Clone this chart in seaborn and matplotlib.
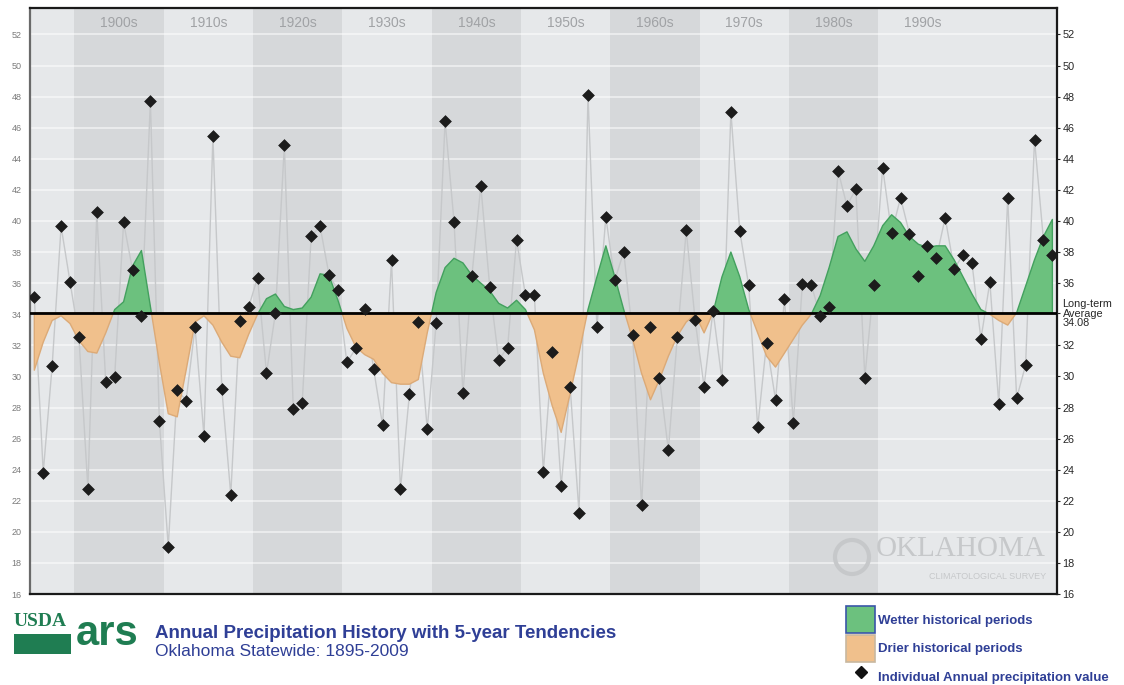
import numpy as np
import pandas as pd
import matplotlib
matplotlib.use("Agg")
import matplotlib.pyplot as plt
from matplotlib.patches import Patch, Rectangle, Circle
from matplotlib.lines import Line2D
import seaborn as sns

# Oklahoma statewide annual precipitation (inches)
years = list(range(1895, 2010))
annual = [35.14, 23.81, 30.68, 39.65, 36.09, 32.53, 22.78, 40.55, 29.61, 29.99,
          39.91, 36.86, 33.86, 47.70, 27.16, 19.05, 29.14, 28.45, 33.17, 26.17,
          45.45, 29.18, 22.39, 33.56, 34.46, 36.35, 30.21, 34.07, 44.89, 27.89,
          28.28, 39.01, 39.65, 36.54, 35.53, 30.90, 31.80, 34.33, 30.47, 26.86,
          37.46, 22.74, 28.84, 33.47, 26.60, 33.43, 46.44, 39.95, 28.92, 36.48,
          42.27, 35.75, 31.07, 31.86, 38.79, 35.21, 35.21, 23.86, 31.60, 22.95,
          29.35, 21.20, 48.11, 33.15, 40.25, 36.18, 38.02, 32.66, 21.71, 33.15,
          29.93, 25.27, 32.53, 39.39, 33.60, 29.35, 34.24, 29.78, 47.02, 39.33,
          35.85, 26.73, 32.18, 28.49, 34.97, 27.03, 35.96, 35.90, 33.90, 34.44,
          43.24, 40.98, 42.06, 29.93, 35.90, 43.43, 39.22, 41.50, 39.18, 36.43,
          38.41, 37.59, 40.21, 36.91, 37.83, 37.29, 32.40, 36.07, 28.23, 41.46,
          28.60, 30.72, 45.23, 38.79, 37.83]
# 5-year tendency curve
tendency = [30.4, 32.2, 33.6, 33.9, 33.4, 32.3, 31.6, 31.5, 32.8, 34.3,
            34.8, 37.1, 38.1, 34.5, 30.9, 27.6, 27.4, 30.4, 33.5, 33.9,
            33.3, 32.2, 31.3, 31.2, 32.7, 34.0, 35.0, 35.3, 34.5, 34.3,
            34.4, 35.1, 36.6, 36.5, 34.9, 33.1, 31.9, 31.4, 31.1, 30.2,
            29.6, 29.5, 29.5, 29.8, 32.8, 35.4, 37.0, 37.6, 37.3, 36.5,
            36.0, 35.5, 34.7, 34.4, 34.9, 34.3, 33.0, 30.2, 28.1, 26.4,
            28.9, 31.5, 34.3, 36.4, 38.4, 36.4, 34.3, 32.4, 30.2, 28.5,
            29.8, 31.3, 32.6, 33.5, 34.0, 32.8, 34.1, 36.4, 38.0, 36.4,
            34.3, 32.8, 31.3, 30.6, 31.5, 32.4, 33.3, 34.0, 35.2, 37.0,
            39.0, 39.3, 38.2, 37.4, 38.4, 39.7, 40.4, 39.9, 39.0, 38.5,
            38.3, 38.4, 38.4, 37.5, 36.4, 35.3, 34.3, 34.0, 33.6, 33.3,
            34.1, 35.8, 37.5, 39.0, 40.1]
long_term_avg = 34.08

decades = [1900, 1910, 1920, 1930, 1940, 1950, 1960, 1970, 1980, 1990]
decade_labels = ["1900s", "1910s", "1920s", "1930s", "1940s",
                 "1950s", "1960s", "1970s", "1980s", "1990s"]
left_ticks = list(range(16, 54, 2))
right_ticks = [t for t in left_ticks if t != 34] + [long_term_avg]
right_labels = [str(t) for t in left_ticks if t != 34] + ["Long-term\nAverage\n34.08"]

df = pd.DataFrame({"year": years, "annual": annual, "tendency": tendency})

sns.set_style("white")
plt.rcParams['font.family'] = ['Liberation Sans', 'DejaVu Sans']

WET = '#6cc17e'
DRY = '#f0c08c'
BLUE = '#2f3f96'
WM = '#c6c8ca'

fig = plt.figure(figsize=(11.24, 6.85), dpi=100)
ax = fig.add_axes([0.0267, 0.1328, 0.9137, 0.8555])
ax.set_facecolor('#e6e8ea')

# decade bands
for i, d in enumerate(decades):
    if i % 2 == 0:
        ax.axvspan(d - 0.5, d + 9.5, color='#d6d8da', lw=0, zorder=0)
    ax.text(d + 4.5, 52.75, decade_labels[i], ha='center', va='center',
            fontsize=10, color='#a0a2a5', zorder=1)
for t in left_ticks:
    ax.axhline(t, color='white', lw=1.3, alpha=0.55, zorder=0.5)

# wetter / drier fills
ax.fill_between(df.year, long_term_avg, df.tendency, where=df.tendency >= long_term_avg,
                interpolate=True, facecolor=WET, edgecolor='#43a05e', lw=1, zorder=2)
ax.fill_between(df.year, long_term_avg, df.tendency, where=df.tendency < long_term_avg,
                interpolate=True, facecolor=DRY, edgecolor='#dcaa77', lw=1, zorder=2)

sns.lineplot(data=df, x='year', y='annual', color='#c6c8ca', lw=1, ax=ax, zorder=1)
sns.scatterplot(data=df, x='year', y='annual', marker='D', s=36, color='#1c1c1c',
                edgecolor='#1c1c1c', ax=ax, zorder=4)
ax.axhline(long_term_avg, color='black', lw=2, zorder=3)

# watermark (Oklahoma Climatological Survey)
ax.text(2008.3, 18.9, "OKLAHOMA", ha='right', va='center', fontsize=21,
        family='Liberation Serif', color=WM, zorder=1)
ax.text(2008.3, 17.1, "CLIMATOLOGICAL SURVEY", ha='right', va='center', fontsize=6.5,
        color=WM, zorder=1)
fig.add_artist(Circle((852 / 100, (685 - 557) / 100), 0.17, transform=fig.dpi_scale_trans,
                      fill=False, ec=WM, lw=3))

ax.set_xlim(1894.52, 2009.52)
ax.set_ylim(16, 53.7)
ax.set_xticks([])
ax.set_xlabel('')
ax.set_ylabel('')
ax.set_yticks(left_ticks)
ax.set_yticklabels([str(t) for t in left_ticks], fontsize=6.5, color='#7a7a7a')
ax.tick_params(axis='y', length=0, pad=6)
for s in ax.spines.values():
    s.set_color('#1a1a1a')
    s.set_linewidth(1.6)
ax.spines['left'].set_color('#6a6a6a')

ax2 = ax.twinx()
ax2.set_ylim(16, 53.7)
ax2.set_yticks(right_ticks)
ax2.set_yticklabels(right_labels, fontsize=7.8, linespacing=0.9)
ax2.tick_params(axis='y', length=2, pad=2)
for s in ax2.spines.values():
    s.set_visible(False)

# title block
fig.text(155 / 1124, 1 - 633 / 685, "Annual Precipitation History with 5-year Tendencies",
         fontsize=13.5, fontweight='bold', color=BLUE, va='center')
fig.text(155 / 1124, 1 - 652 / 685, "Oklahoma Statewide: 1895-2009",
         fontsize=12.5, color=BLUE, va='center')

# USDA ARS mark
fig.text(14 / 1124, 1 - 622 / 685, "USDA", fontsize=14, fontweight='bold',
         family='Liberation Serif', color='#1f7d52', va='center')
fig.add_artist(Rectangle((14 / 1124, 1 - 654 / 685), 57 / 1124, 20 / 685,
                         transform=fig.transFigure, color='#1f7d52', lw=0))
fig.text(76 / 1124, 1 - 634 / 685, "ars", fontsize=30, fontweight='bold',
         color='#1f7d52', va='center')

handles = [Patch(facecolor=WET, edgecolor='#3a55a8', lw=1.2),
           Patch(facecolor=DRY, edgecolor='#c8b8a0', lw=1.2),
           Line2D([], [], marker='D', color='none', markerfacecolor='#111111',
                  markeredgecolor='#111111', markersize=6)]
leg = fig.legend(handles, ["Wetter historical periods", "Drier historical periods",
                           "Individual Annual precipitation value"],
                 loc='upper left', bbox_to_anchor=(846 / 1124, 1 - 606 / 685),
                 frameon=False, fontsize=9.5, handlelength=2.2, handleheight=2.8,
                 labelspacing=0.1, handletextpad=0.25, borderaxespad=0, borderpad=0)
for t in leg.get_texts():
    t.set_color(BLUE)
    t.set_fontweight('bold')

fig.savefig('out.png', dpi=100, facecolor='white')
